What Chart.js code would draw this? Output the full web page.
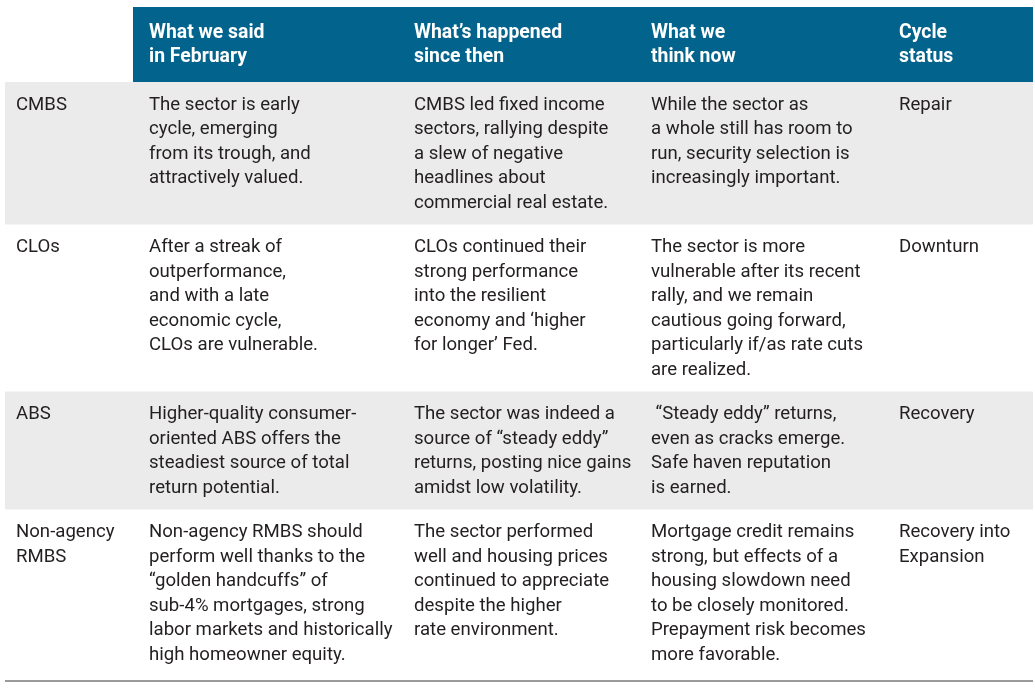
<!DOCTYPE html>
<html>
<head>
<meta charset="utf-8">
<script src="https://cdn.jsdelivr.net/npm/chart.js@4.4.0/dist/chart.umd.min.js"></script>
<style>
  html, body { margin: 0; padding: 0; background: #ffffff; }
  #tableChart { display: block; }
</style>
</head>
<body>
<canvas id="tableChart" width="1035" height="695"></canvas>
<script>

// --------------------------------------------------------------------------
//                               table data
// --------------------------------------------------------------------------

const headers = [
    ['What we said', 'in February'],
    ['What\u2019s happened', 'since then'],
    ['What we', 'think now'],
    ['Cycle', 'status']
];

const sectors = [
    ['CMBS'],
    ['CLOs'],
    ['ABS'],
    ['Non-agency', 'RMBS']
];

const saidInFebruary = [
    ['The sector is early', 'cycle, emerging', 'from its trough, and', 'attractively valued.'],
    ['After a streak of', 'outperformance,', 'and with a late', 'economic cycle,', 'CLOs are vulnerable.'],
    ['Higher-quality consumer-', 'oriented ABS offers the', 'steadiest source of total', 'return potential.'],
    ['Non-agency RMBS should', 'perform well thanks to the', '\u201Cgolden handcuffs\u201D of', 'sub-4% mortgages, strong', 'labor markets and historically', 'high homeowner equity.']
];

const happenedSince = [
    ['CMBS led fixed income', 'sectors, rallying despite', 'a slew of negative', 'headlines about', 'commercial real estate.'],
    ['CLOs continued their', 'strong performance', 'into the resilient', 'economy and \u2018higher', 'for longer\u2019 Fed.'],
    ['The sector was indeed a', 'source of \u201Csteady eddy\u201D', 'returns, posting nice gains', 'amidst low volatility.'],
    ['The sector performed', 'well and housing prices', 'continued to appreciate', 'despite the higher', 'rate environment.']
];

const thinkNow = [
    ['While the sector as', 'a whole still has room to', 'run, security selection is', 'increasingly important.'],
    ['The sector is more', 'vulnerable after its recent', 'rally, and we remain', 'cautious going forward,', 'particularly if/as rate cuts', 'are realized.'],
    [' \u201CSteady eddy\u201D returns,', 'even as cracks emerge.', 'Safe haven reputation', 'is earned.'],
    ['Mortgage credit remains', 'strong, but effects of a', 'housing slowdown need', 'to be closely monitored.', 'Prepayment risk becomes', 'more favorable.']
];

const cycleStatus = [
    ['Repair'],
    ['Downturn'],
    ['Recovery'],
    ['Recovery into', 'Expansion']
];

const shadedRows = [true, false, true, false];

// --------------------------------------------------------------------------
//                               layout
// --------------------------------------------------------------------------

const colX = [16, 149, 414, 651, 899];
const headerTop = 7;
const headerBottom = 82;
const tableLeft = 5;
const tableRight = 1033;
const bandLeft = 133;
const lineGap = 24.5;
const rowPad = 20;
const firstLineOffset = 23;

const headerColor = '#02638c';
const shadeColor = '#ebebeb';
const textColor = '#231f20';
const bodyFont = '18.6px Roboto';
const headFont = 'bold 19.4px Roboto';

function rowLines(i) {
    return Math.max(sectors[i].length, saidInFebruary[i].length,
        happenedSince[i].length, thinkNow[i].length, cycleStatus[i].length);
}

const tablePlugin = {
    id: 'tablePlugin',
    afterDraw(chart) {
        const ctx = chart.ctx;
        const xs = chart.scales.x;
        const ys = chart.scales.y;
        const px = v => xs.getPixelForValue(v);
        const py = v => ys.getPixelForValue(v);

        ctx.save();
        ctx.textBaseline = 'middle';
        ctx.textAlign = 'left';

        // header band
        ctx.fillStyle = headerColor;
        ctx.fillRect(px(bandLeft), py(headerTop), px(tableRight) - px(bandLeft), py(headerBottom) - py(headerTop));
        ctx.fillStyle = '#ffffff';
        ctx.font = headFont;
        headers.forEach((lines, c) => {
            lines.forEach((t, k) => ctx.fillText(t, px(colX[c + 1]), py(33 + k * lineGap)));
        });

        // body rows
        let top = headerBottom;
        sectors.forEach((label, i) => {
            const h = rowLines(i) * lineGap + rowPad;
            if (shadedRows[i]) {
                ctx.fillStyle = shadeColor;
                ctx.fillRect(px(tableLeft), py(top), px(tableRight) - px(tableLeft), py(top + h) - py(top));
            }
            ctx.fillStyle = textColor;
            ctx.font = bodyFont;
            const cells = [label, saidInFebruary[i], happenedSince[i], thinkNow[i], cycleStatus[i]];
            cells.forEach((lines, c) => {
                lines.forEach((t, k) => ctx.fillText(t, px(colX[c]), py(top + firstLineOffset + k * lineGap)));
            });
            top += h;
        });

        // bottom rule
        ctx.strokeStyle = '#9a9a9a';
        ctx.lineWidth = 2;
        ctx.beginPath();
        ctx.moveTo(px(tableLeft), py(681));
        ctx.lineTo(px(tableRight), py(681));
        ctx.stroke();
        ctx.restore();
    }
};

window.tableChart = new Chart(document.getElementById('tableChart').getContext('2d'), {
    type: 'scatter',
    data: { datasets: [{ data: [] }] },
    options: {
        responsive: false,
        animation: false,
        events: [],
        layout: { padding: 0 },
        plugins: { legend: { display: false }, tooltip: { enabled: false } },
        scales: {
            x: { type: 'linear', min: 0, max: 1035, display: false },
            y: { type: 'linear', min: 0, max: 695, reverse: true, display: false }
        }
    },
    plugins: [tablePlugin]
});
</script>
</body>
</html>
